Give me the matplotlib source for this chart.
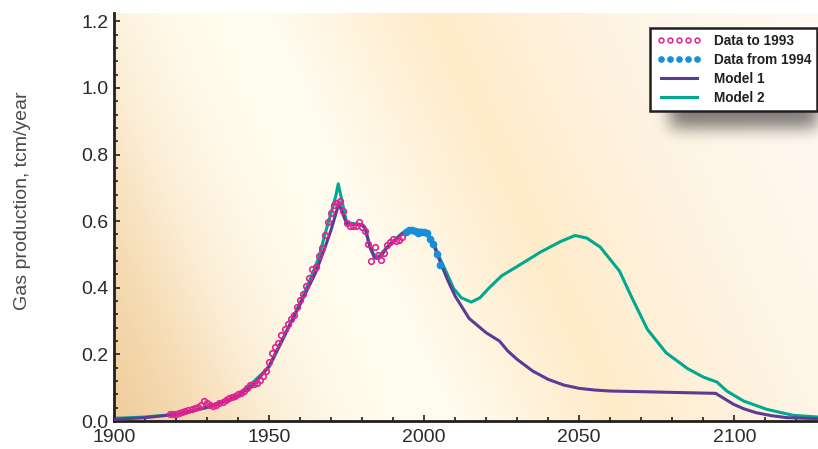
import numpy as np
import matplotlib
matplotlib.use('Agg')
import matplotlib.pyplot as plt
from matplotlib.lines import Line2D
from matplotlib.ticker import MultipleLocator
from matplotlib.colors import to_rgb

# observed data up to 1993
years_old = [1918, 1919, 1920, 1921, 1922, 1923, 1924, 1925, 1926, 1927, 1928, 1929, 1930,
             1931, 1932, 1933, 1934, 1935, 1936, 1937, 1938, 1939, 1940, 1941, 1942, 1943,
             1944, 1945, 1946, 1947, 1948, 1949, 1950, 1951, 1952, 1953, 1954, 1955, 1956,
             1957, 1958, 1959, 1960, 1961, 1962, 1963, 1964, 1965, 1966, 1967, 1968, 1969,
             1970, 1971, 1972, 1973, 1974, 1975, 1976, 1977, 1978, 1979, 1980, 1981, 1982,
             1983, 1984, 1985, 1986, 1987, 1988, 1989, 1990, 1991, 1992, 1993]
gas_old = [0.020, 0.022, 0.020, 0.023, 0.026, 0.030, 0.034, 0.037, 0.039, 0.042, 0.047, 0.060, 0.055,
           0.048, 0.046, 0.047, 0.053, 0.058, 0.064, 0.069, 0.072, 0.075, 0.080, 0.084, 0.090, 0.100,
           0.107, 0.112, 0.114, 0.124, 0.135, 0.150, 0.178, 0.205, 0.222, 0.235, 0.258, 0.275, 0.290,
           0.305, 0.318, 0.342, 0.363, 0.382, 0.405, 0.430, 0.457, 0.462, 0.496, 0.520, 0.557, 0.596,
           0.624, 0.649, 0.656, 0.662, 0.632, 0.594, 0.586, 0.584, 0.585, 0.598, 0.581, 0.569, 0.532,
           0.479, 0.521, 0.499, 0.484, 0.504, 0.529, 0.536, 0.546, 0.539, 0.542, 0.551]

# observed data from 1994
years_new = [1994, 1995, 1996, 1997, 1998, 1999, 2000, 2001, 2002, 2003, 2004, 2005]
gas_new = [0.566, 0.572, 0.573, 0.569, 0.565, 0.566, 0.566, 0.563, 0.545, 0.530, 0.500, 0.469]

# model 1
years_m1 = [1900, 1910, 1920, 1925, 1930, 1935, 1940, 1945, 1950, 1955, 1960, 1965, 1968, 1970,
            1972.5, 1975, 1980, 1981, 1982.5, 1984, 1985, 1986, 1988, 1990, 1993, 1996, 1999,
            2001, 2003, 2005, 2007.5, 2010, 2014.5, 2020, 2024.3, 2027, 2030, 2035, 2040, 2045,
            2050, 2055, 2060, 2075, 2094, 2099.8, 2103, 2107, 2112, 2117, 2127]
gas_m1 = [0.005, 0.010, 0.020, 0.030, 0.042, 0.056, 0.076, 0.108, 0.165, 0.258, 0.350, 0.445, 0.520, 0.574,
          0.653, 0.592, 0.588, 0.578, 0.522, 0.490, 0.488, 0.494, 0.520, 0.538, 0.562, 0.572, 0.570,
          0.560, 0.530, 0.482, 0.425, 0.375, 0.308, 0.265, 0.240, 0.210, 0.185, 0.150, 0.125, 0.108,
          0.098, 0.093, 0.090, 0.087, 0.083, 0.050, 0.037, 0.025, 0.016, 0.010, 0.007]

# model 2
years_m2 = [1900, 1910, 1920, 1930, 1940, 1950, 1955, 1960, 1963, 1966, 1968, 1970, 1971.5, 1972.3,
            1974, 1975, 1980, 1981, 1982.5, 1984, 1985.5, 1988, 1990, 1993, 1996, 1999, 2001, 2003,
            2005, 2007.5, 2009.5, 2012, 2015.2, 2018, 2021, 2025, 2030, 2037.5, 2044, 2048.7, 2052.5,
            2056.8, 2060, 2063, 2067, 2072, 2078, 2085, 2090, 2094.4, 2097.6, 2103, 2110.5, 2119, 2127]
gas_m2 = [0.008, 0.012, 0.020, 0.040, 0.074, 0.162, 0.255, 0.355, 0.420, 0.490, 0.560, 0.625, 0.675, 0.712,
          0.640, 0.595, 0.590, 0.580, 0.525, 0.495, 0.495, 0.522, 0.540, 0.565, 0.575, 0.573, 0.565, 0.535,
          0.490, 0.440, 0.398, 0.370, 0.357, 0.370, 0.400, 0.436, 0.464, 0.507, 0.539, 0.557, 0.549,
          0.522, 0.485, 0.450, 0.370, 0.275, 0.205, 0.157, 0.132, 0.117, 0.090, 0.060, 0.035, 0.017, 0.012]

pink = '#e0238f'
blue = '#168fd8'
purple = '#5c3b96'
teal = '#00a88f'

plt.rcParams['font.family'] = ['Liberation Sans', 'DejaVu Sans']

fig = plt.figure(figsize=(8.18, 4.49), dpi=100)
ax = fig.add_axes([114 / 818, 28 / 449, 704 / 818, 408 / 449])
ax.set_facecolor('none')

# diagonal cream/peach background
stops_t = [-190, -100, -20, 60, 150, 240, 320, 420, 540, 704]
stops_c = ['#eecb98', '#f6dcb4', '#fcefd8', '#fffbec', '#fffcf0', '#fff3dc', '#feebc8',
           '#fef1da', '#fff6e9', '#fffaf3']
gx, gy = np.meshgrid(np.arange(704), np.arange(408))
t = gx - 0.45 * gy
rgb = np.array([to_rgb(c) for c in stops_c])
bg = np.dstack([np.interp(t, stops_t, rgb[:, k]) for k in range(3)])
ax.imshow(bg, extent=(0, 1, 0, 1), transform=ax.transAxes, aspect='auto',
          origin='upper', interpolation='bilinear', zorder=0)

# blurred legend shadow
sx, sy = np.meshgrid(np.arange(600, 818), np.arange(20, 180))
mask = ((sx >= 670) & (sx <= 840) & (sy >= 45) & (sy <= 127)).astype(float)
kern = np.exp(-0.5 * (np.arange(-24, 25) / 8.0) ** 2)
kern /= kern.sum()
mask = np.apply_along_axis(lambda r: np.convolve(r, kern, mode='same'), 1, mask)
mask = np.apply_along_axis(lambda c: np.convolve(c, kern, mode='same'), 0, mask)
shadow = np.zeros(mask.shape + (4,))
shadow[..., 3] = 0.5 * mask
ax.imshow(shadow, extent=((600 - 114) / 704, 1, 1 - (180 - 13) / 408, 1 - (20 - 13) / 408),
          transform=ax.transAxes, aspect='auto', origin='upper', interpolation='bilinear', zorder=4)

ax.plot(years_m2, gas_m2, color=teal, lw=2.2, zorder=2, solid_joinstyle='round')
ax.plot(years_m1, gas_m1, color=purple, lw=2.2, zorder=3, solid_joinstyle='round')
ax.plot(years_old, gas_old, 'o', mfc='none', mec=pink, mew=1.2, ms=4, zorder=4)
ax.plot(years_new, gas_new, 'o', color=blue, ms=4.5, zorder=4)

ax.set_xlim(1900, 2127)
ax.set_ylim(0, 1.225)
ax.xaxis.set_major_locator(MultipleLocator(50))
ax.xaxis.set_minor_locator(MultipleLocator(10))
ax.yaxis.set_major_locator(MultipleLocator(0.2))
ax.yaxis.set_minor_locator(MultipleLocator(0.04))
ax.yaxis.set_major_formatter(matplotlib.ticker.FormatStrFormatter('%.1f'))

for s in ['top', 'right']:
    ax.spines[s].set_visible(False)
for s in ['left', 'bottom']:
    ax.spines[s].set_linewidth(2)
    ax.spines[s].set_color('#231f20')
ax.tick_params(which='both', direction='in', color='#231f20', width=1.2, labelsize=14,
               labelcolor='#2a2a2a')
ax.tick_params(which='major', length=4.5)
ax.tick_params(which='minor', length=3)
ax.tick_params(axis='x', pad=6)
ax.tick_params(axis='y', pad=4)

ax.set_ylabel('Gas production, tcm/year', fontsize=14, color='#4a4a4a')
ax.yaxis.set_label_coords(-0.118, 0.54)

handles = [Line2D([], [], ls='none', marker='o', mfc='none', mec=pink, mew=1.1, ms=3.5),
           Line2D([], [], ls='none', marker='o', color=blue, ms=3.8),
           Line2D([], [], color=purple, lw=2.2),
           Line2D([], [], color=teal, lw=2.2)]
labels = ['Data to 1993', 'Data from 1994', 'Model 1', 'Model 2']
leg = ax.legend(handles, labels, loc='upper right', bbox_to_anchor=(0.999, 0.964),
                numpoints=5, handlelength=3.3, handletextpad=0.9, labelspacing=0.36,
                borderpad=0.45, borderaxespad=0, fancybox=False, framealpha=1,
                edgecolor='#231f20', facecolor='white',
                prop={'family': 'Liberation Sans', 'weight': 'bold', 'size': 9.8})
leg.get_frame().set_linewidth(1.8)
leg.set_zorder(5)
for txt in leg.get_texts():
    txt.set_color('#231f20')

fig.savefig('out.png', dpi=100)
